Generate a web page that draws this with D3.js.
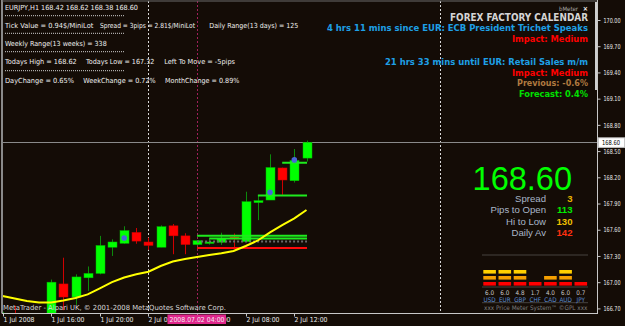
<!DOCTYPE html>
<html lang="en">
<head>
<meta charset="UTF-8">
<title>EURJPY,H1</title>
<script src="https://d3js.org/d3.v7.min.js"></script>
<style>
    body { margin: 0; background: #140c06; }
    svg { display: block; }
    text { font-family: "Liberation Sans", Arial, sans-serif; }
    .tah { font-family: "DejaVu Sans Condensed", "DejaVu Sans", sans-serif; }
</style>
</head>
<body>
<svg id="canvas" width="625" height="326"></svg>
<script>
    // ---- data ----
    // H1 bars from 1 Jul 12:00 to 2 Jul 13:00 (index 0..25)
    const opens  = [166.50,166.62,166.50,166.58,166.55,166.98,166.83,167.05,167.10,167.40,167.445,167.57,167.46,167.40,167.645,167.53,167.43,167.455,167.457,167.517,167.463,167.91,167.94,168.307,168.161,168.42];
    const highs  = [166.66,166.73,166.62,166.62,167.03,167.28,167.09,167.18,167.53,167.49,167.64,167.62,167.51,167.65,167.665,167.56,167.48,167.50,167.566,167.557,168.035,167.99,168.463,168.31,168.524,168.62];
    const lows   = [166.45,166.45,166.46,166.48,166.50,166.68,166.74,166.90,167.09,167.30,167.44,167.44,167.37,167.40,167.32,167.32,167.42,167.43,167.426,167.39,167.46,167.71,167.94,168.00,168.14,168.38];
    const closes = [166.645,166.50,166.58,166.52,167.00,166.83,167.06,167.10,167.42,167.46,167.59,167.47,167.42,167.635,167.53,167.43,167.475,167.46,167.50,167.494,167.921,167.933,168.312,168.169,168.392,168.60];
    const maValues = [166.842,166.814,166.785,166.768,166.768,166.79,166.82,166.86,166.93,167.00,167.054,167.09,167.12,167.185,167.237,167.265,167.288,167.31,167.33,167.357,167.414,167.477,167.569,167.654,167.73,167.826];

    const fractalIdx = [10, 22, 24];
    const fractalPrice = [167.506, 168.029, 168.399];

    const levelPrice = [168.367, 167.992, 167.532, 167.499, 167.466, 167.391];
    const levelFrom  = [23, 21, 16, 17, 16, 16];
    const levelTo    = [25, 25, 25, 25, 25, 25];
    const levelKind  = ["green", "green", "green", "green", "open", "red"];

    const priceTicks = [170.00,169.70,169.40,169.10,168.80,168.50,168.20,167.90,167.60,167.30,167.00,166.70];
    const timeTickIdx = [0, 4, 8, 12, 16, 20, 24];
    const timeTickLabels = ["1 Jul 2008","1 Jul 16:00","1 Jul 20:00","2 Jul 00:00","2 Jul 04:00","2 Jul 08:00","2 Jul 12:00"];
    const daySeparators = [12, 36];
    const cursorIdx = 16;
    const cursorLabel = "2008.07.02 04:00";
    const bidPrice = 168.60;

    const infoRows = [
        ["EURJPY,H1  168.42 168.62 168.38 168.60"],
        ["Tick Value = 0.94$/MiniLot", "Spread = 3pips = 2.81$/MiniLot", "Daily Range(13 days) = 125"],
        ["Weekly Range(13 weeks) = 338"],
        ["Todays High = 168.62", "Todays Low = 167.32", "Left To Move = -5pips"],
        ["DayChange = 0.65%", "WeekChange = 0.72%", "MonthChange = 0.89%"]
    ];

    const calendarLines = [
        "FOREX FACTORY CALENDAR",
        "4 hrs 11 mins since EUR: ECB President Trichet Speaks",
        "Impact: Medium",
        "21 hrs 33 mins until EUR: Retail Sales m/m",
        "Impact: Medium",
        "Previous: -0.6%",
        "Forecast: 0.4%"
    ];

    const bigPrice = "168.60";
    const statLabels = ["Spread", "Pips to Open", "Hi to Low", "Daily Av"];
    const statValues = ["3", "113", "130", "142"];

    const currencies = ["USD","EUR","GBP","CHF","CAD","AUD","JPY"];
    const strengths = [6.0, 6.0, 4.8, 1.7, 4.0, 6.0, 0.7];
    const strengthBlocks = [3, 3, 3, 1, 2, 3, 1];

    // ---- layout ----
    let svg = d3.select('#canvas')
    const plotL = 2, plotR = 597, plotT = 1, plotB = 313.5

    svg.append('rect').attr('width', 625).attr('height', 326).attr('fill', '#140c06')

    let x = d3.scaleLinear().domain([0, 25]).range([2.57, 306.5])
    let y = d3.scaleLinear().domain([166.70, 170.00]).range([308.4, 20])
    const px = v => Math.round(v) + 0.5

    svg.append('clipPath').attr('id', 'plotClip')
        .append('rect').attr('x', plotL).attr('y', plotT).attr('width', plotR - plotL).attr('height', plotB - plotT)
    let plot = svg.append('g').attr('clip-path', 'url(#plotClip)')

    // info text block, top left
    const infoX = [[5], [5, 100, 209.3], [5], [5, 86, 164.3], [5, 83.3, 165]]
    const infoW = [[133], [88.3, 95, 89], [101.7], [71.7, 68.3, 70.7], [69, 72.4, 74.3]]
    const infoY = [10, 27.7, 46, 64.3, 82.7]
    infoRows.forEach(function (row, r) {
        row.forEach(function (t, k) {
            plot.append('text').attr('class', 'tah')
                .attr('x', infoX[r][k]).attr('y', infoY[r])
                .attr('font-size', '7px').attr('fill', '#f0f0f0')
                .attr('textLength', infoW[r][k]).attr('lengthAdjust', 'spacingAndGlyphs')
                .text(t)
        })
    })
    ;[15.7, 33.3, 51.7, 70.7].forEach(function (yy) {
        plot.append('line').attr('x1', 5).attr('x2', 125).attr('y1', yy).attr('y2', yy)
            .attr('stroke', '#d0d0d0').attr('stroke-width', 1).attr('stroke-dasharray', '1,1')
    })

    // period separators and cursor line
    plot.selectAll('line.sep').data(daySeparators).enter().append('line')
        .attr('x1', d => px(x(d))).attr('x2', d => px(x(d)))
        .attr('y1', plotT).attr('y2', plotB)
        .attr('stroke', '#d8d8d8').attr('stroke-dasharray', '2,2')
    plot.append('line')
        .attr('x1', px(x(cursorIdx))).attr('x2', px(x(cursorIdx)))
        .attr('y1', plotT).attr('y2', plotB)
        .attr('stroke', '#a0205a').attr('stroke-dasharray', '2,2')

    // bid line
    plot.append('line').attr('x1', plotL).attr('x2', plotR)
        .attr('y1', px(y(bidPrice))).attr('y2', px(y(bidPrice)))
        .attr('stroke', '#8a8a8a')

    // candles
    let bars = opens.map((o, i) => ({i: i, o: o, h: highs[i], l: lows[i], c: closes[i]}))
    plot.selectAll('line.wick').data(bars).enter().append('line')
        .attr('x1', d => px(x(d.i))).attr('x2', d => px(x(d.i)))
        .attr('y1', d => y(d.h)).attr('y2', d => y(d.l))
        .attr('stroke', d => d.c >= d.o ? '#0c8a0c' : '#d00000')
    plot.selectAll('rect.body').data(bars).enter().append('rect')
        .attr('x', d => Math.round(x(d.i)) - 4).attr('width', 9)
        .attr('y', d => y(Math.max(d.o, d.c)))
        .attr('height', d => Math.max(1.5, Math.abs(y(d.o) - y(d.c))))
        .attr('fill', d => d.c >= d.o ? '#00ff00' : '#ff0000')
        .attr('stroke', d => d.c >= d.o ? '#00b400' : '#c00000').attr('stroke-width', 0.5)

    // level lines
    levelPrice.forEach(function (p, k) {
        let l = plot.append('line')
            .attr('x1', x(levelFrom[k])).attr('x2', x(levelTo[k]) + 0.5)
            .attr('y1', y(p)).attr('y2', y(p))
            .attr('stroke-width', 2)
        if (levelKind[k] == 'green') l.attr('stroke', '#1eea1e')
        else if (levelKind[k] == 'red') l.attr('stroke', '#ff0a0a')
        else l.attr('stroke', '#6a6a6a').attr('stroke-dasharray', '2,2')
    })

    // moving average
    plot.append('path').datum(maValues)
        .attr('d', d3.line().x((d, i) => x(i)).y(d => y(d)))
        .attr('fill', 'none').attr('stroke', '#ffff00').attr('stroke-width', 2)

    // fractal markers
    fractalIdx.forEach(function (idx, k) {
        plot.append('circle').attr('cx', x(idx)).attr('cy', y(fractalPrice[k])).attr('r', 2.8)
            .attr('fill', '#4a66d8')
    })

    // copyright line
    plot.append('text').attr('class', 'tah')
        .attr('x', 3).attr('y', 309.5).attr('font-size', '7px').attr('fill', '#d8d8d8')
        .attr('textLength', 223).attr('lengthAdjust', 'spacingAndGlyphs')
        .text("MetaTrader - Alpari UK, \u00a9 2001-2008 MetaQuotes Software Corp.")

    // forex factory calendar (right aligned)
    const calY = [20.7, 31, 41.7, 65, 75.5, 86, 96.7]
    const calW = [138, 261, 76, 203, 76, 71, 69]
    const calColor = ['#d4d4d4', '#1ea0e6', '#ff0000', '#1ea0e6', '#ff0000', '#b07a40', '#00e000']
    calendarLines.forEach(function (t, k) {
        plot.append('text').attr('class', 'tah')
            .attr('x', 588).attr('y', calY[k]).attr('text-anchor', 'end')
            .attr('font-size', k == 0 ? '10px' : '9.2px').attr('font-weight', 'bold')
            .attr('fill', calColor[k])
            .attr('textLength', calW[k]).attr('lengthAdjust', 'spacingAndGlyphs')
            .text(t)
    })
    plot.append('text').attr('class', 'tah').attr('x', 559).attr('y', 11)
        .attr('font-size', '6px').attr('fill', '#a8a8a8').text('bMeter')
    plot.append('text').attr('class', 'tah').attr('x', 588).attr('y', 11).attr('text-anchor', 'end')
        .attr('font-size', '7px').attr('font-weight', 'bold').attr('fill', '#f0f0f0').text('\u00d7')

    // price meter
    plot.append('text').attr('x', 572).attr('y', 190).attr('text-anchor', 'end')
        .attr('font-size', '32.5px').attr('fill', '#00ff00').text(bigPrice)
    const statColor = ['#e8b400', '#00ee00', '#f0c000', '#ff3010']
    statLabels.forEach(function (t, k) {
        let yy = 201.5 + k * 11.5
        plot.append('text').attr('x', 546).attr('y', yy).attr('text-anchor', 'end')
            .attr('font-size', '9.6px').attr('fill', '#a9b6c8').text(t)
        plot.append('text').attr('x', 572.5).attr('y', yy).attr('text-anchor', 'end')
            .attr('font-size', '9.6px').attr('font-weight', 'bold').attr('fill', statColor[k]).text(statValues[k])
    })

    ;[255, 287, 302.7].forEach(function (yy) {
        plot.append('line').attr('x1', 482.5).attr('x2', 588.5).attr('y1', yy).attr('y2', yy)
            .attr('stroke', '#7a7a7a').attr('stroke-dasharray', '1,1')
    })
    let cx = d3.scalePoint().domain(currencies).range([489.6, 580.8])
    const blockColor = ['#ff0000', '#f5a000', '#ffd000']
    currencies.forEach(function (cur, k) {
        for (let b = 0; b < strengthBlocks[k]; b++) {
            plot.append('rect').attr('x', cx(cur) - 6.3).attr('width', 12.6)
                .attr('y', 282 - b * 6).attr('height', 3.6).attr('fill', blockColor[b])
        }
        plot.append('text').attr('class', 'tah').attr('x', cx(cur)).attr('y', 295).attr('text-anchor', 'middle')
            .attr('font-size', '6.3px').attr('fill', '#c8c8c8').text(d3.format('.1f')(strengths[k]))
        plot.append('text').attr('class', 'tah').attr('x', cx(cur)).attr('y', 301.8).attr('text-anchor', 'middle')
            .attr('font-size', '6.3px').attr('fill', '#5b8fd6').text(cur)
    })
    plot.append('text').attr('class', 'tah').attr('x', 484).attr('y', 309.5)
        .attr('font-size', '6.3px').attr('fill', '#7c7c7c')
        .attr('textLength', 103.5).attr('lengthAdjust', 'spacingAndGlyphs')
        .text('xxx Price Meter System\u2122 \u00a9GPL xxx')

    // frame
    svg.append('line').attr('x1', 2).attr('x2', 2).attr('y1', 0).attr('y2', plotB).attr('stroke', '#8a8a8a').attr('stroke-width', 2)
    svg.append('line').attr('x1', plotL).attr('x2', plotR).attr('y1', 1).attr('y2', 1).attr('stroke', '#6a6a6a')
    svg.append('line').attr('x1', plotR + 0.5).attr('x2', plotR + 0.5).attr('y1', 0).attr('y2', plotB).attr('stroke', '#c8c8c8')
    svg.append('line').attr('x1', plotL).attr('x2', plotR + 1).attr('y1', plotB).attr('y2', plotB).attr('stroke', '#c8c8c8')
    svg.append('rect').attr('x', 595).attr('y', 2).attr('width', 2).attr('height', 88).attr('fill', '#cfcfcf')

    // price axis
    let yAxis = svg.append('g').attr('transform', 'translate(' + (plotR + 0.5) + ',0)')
        .call(d3.axisRight(y).tickValues(priceTicks).tickFormat(d3.format('.2f')).tickSize(3).tickPadding(3))
    yAxis.select('.domain').remove()
    yAxis.selectAll('line').attr('stroke', '#c8c8c8')
    yAxis.selectAll('text').attr('class', 'tah').attr('font-size', '6.8px').attr('fill', '#e8e8e8')
        .attr('textLength', 17).attr('lengthAdjust', 'spacingAndGlyphs')

    // bid label
    svg.append('rect').attr('x', 598.5).attr('y', y(bidPrice) - 4.5).attr('width', 26).attr('height', 9.5)
        .attr('fill', '#ffffff').attr('stroke', '#c8c8c8')
    svg.append('text').attr('class', 'tah').attr('x', 602).attr('y', y(bidPrice) + 3)
        .attr('font-size', '6.8px').attr('fill', '#000000')
        .attr('textLength', 18).attr('lengthAdjust', 'spacingAndGlyphs').text(d3.format('.2f')(bidPrice))

    // time axis
    let xAxis = svg.append('g').attr('transform', 'translate(0,' + plotB + ')')
        .call(d3.axisBottom(x).tickValues(timeTickIdx).tickFormat((d, i) => timeTickLabels[i]).tickSize(3).tickPadding(2))
    xAxis.select('.domain').remove()
    xAxis.selectAll('.tick').attr('transform', d => 'translate(' + px(x(d)) + ',0)')
    xAxis.selectAll('line').attr('stroke', '#c8c8c8')
    xAxis.selectAll('text').attr('class', 'tah').attr('font-size', '6.8px').attr('fill', '#e8e8e8')
        .attr('text-anchor', 'start').attr('x', 0).attr('y', 8.5).attr('dy', null)
        .attr('textLength', (d, i) => i == 0 ? 31 : 33).attr('lengthAdjust', 'spacingAndGlyphs')

    // cursor time label
    svg.append('rect').attr('x', 167.5).attr('y', 314.5).attr('width', 58.5).attr('height', 9.5).attr('fill', '#e0268c')
    svg.append('text').attr('class', 'tah').attr('x', 169.5).attr('y', 322)
        .attr('font-size', '6.8px').attr('fill', '#f4e8f0')
        .attr('textLength', 55).attr('lengthAdjust', 'spacingAndGlyphs').text(cursorLabel)
</script>
</body>
</html>
